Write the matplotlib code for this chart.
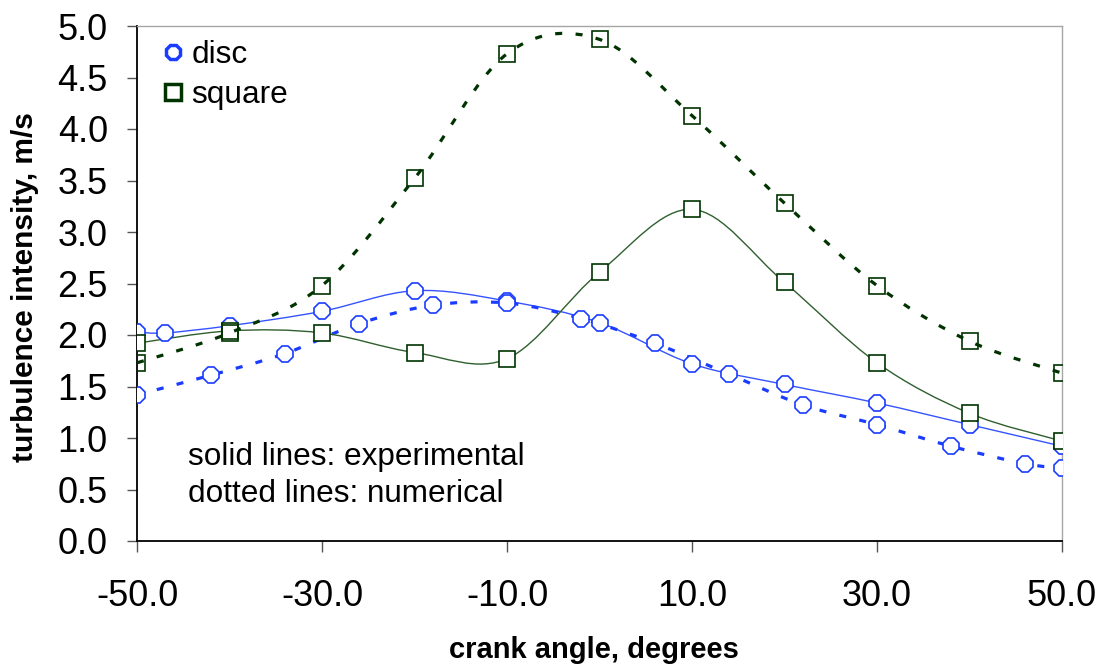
import numpy as np
import matplotlib
matplotlib.use('Agg')
import matplotlib.pyplot as plt
from matplotlib.path import Path
from matplotlib.patches import PathPatch
from matplotlib.lines import Line2D

plt.rcParams['font.family'] = ['Liberation Sans', 'DejaVu Sans']
plt.rcParams['axes.unicode_minus'] = False

# disc, experimental (solid) and numerical (dotted)
disc_exp_x = [-50, -47, -40, -30, -20, -10, 0, 10, 20, 30, 40, 50]
disc_exp_y = [2.03, 2.02, 2.09, 2.23, 2.43, 2.33, 2.12, 1.72, 1.52, 1.34, 1.13, 0.92]
disc_num_x = [-50, -42, -34, -26, -18, -10, -2, 6, 14, 22, 30, 38, 46, 50]
disc_num_y = [1.42, 1.61, 1.82, 2.11, 2.29, 2.31, 2.16, 1.92, 1.62, 1.32, 1.13, 0.92, 0.75, 0.71]

# square, experimental (solid) and numerical (dotted)
sq_exp_x = [-50, -40, -30, -20, -10, 0, 10, 20, 30, 40, 50]
sq_exp_y = [1.92, 2.04, 2.02, 1.83, 1.77, 2.61, 3.22, 2.51, 1.73, 1.24, 0.97]
sq_num_x = [-50, -40, -30, -20, -10, 0, 10, 20, 30, 40, 50]
sq_num_y = [1.73, 2.02, 2.48, 3.52, 4.73, 4.87, 4.13, 3.28, 2.48, 1.94, 1.63]

x_ticks = [-50, -30, -10, 10, 30, 50]
y_ticks = [0.0, 0.5, 1.0, 1.5, 2.0, 2.5, 3.0, 3.5, 4.0, 4.5, 5.0]

blue = '#1a3cff'
blue_line = '#3553ff'
green = '#003300'
green_line = '#2f5f2f'


def smooth_path(x, y):
    '''
    Bezier path through the points, spreadsheet-style smoothing
    '''
    pts = np.column_stack([x, y]).astype(float)
    n = len(pts)
    verts = [pts[0]]
    codes = [Path.MOVETO]
    for i in range(n - 1):
        p0 = pts[max(i - 1, 0)]
        p1 = pts[i]
        p2 = pts[i + 1]
        p3 = pts[min(i + 2, n - 1)]
        verts += [p1 + (p2 - p0) / 6, p2 - (p3 - p1) / 6, p2]
        codes += [Path.CURVE4] * 3
    return Path(verts, codes)


def add_curve(ax, x, y, color, lw, ls, z):
    patch = PathPatch(smooth_path(x, y), fill=False, edgecolor=color,
                      lw=lw, linestyle=ls, zorder=z, capstyle='butt')
    ax.add_patch(patch)


fig = plt.figure(figsize=(11.01, 6.68), dpi=100)
ax = fig.add_axes([137 / 1101, 1 - 541 / 668, 925 / 1101, 515 / 668])

dash = (0, (2.2, 4.2))
add_curve(ax, disc_exp_x, disc_exp_y, blue_line, 1.0, '-', 2)
add_curve(ax, disc_num_x, disc_num_y, blue, 2.3, dash, 2)
add_curve(ax, sq_exp_x, sq_exp_y, green_line, 1.0, '-', 2)
add_curve(ax, sq_num_x, sq_num_y, green, 2.3, dash, 4)

ax.plot(disc_exp_x, disc_exp_y, ls='none', marker='8', ms=13,
        mfc='white', mec=blue, mew=1.2, zorder=3)
ax.plot(disc_num_x, disc_num_y, ls='none', marker='8', ms=13,
        mfc='white', mec=blue, mew=1.2, zorder=3)
ax.plot(sq_exp_x, sq_exp_y, ls='none', marker='s', ms=11.5,
        mfc='white', mec=green, mew=1.2, zorder=3)
ax.plot(sq_num_x, sq_num_y, ls='none', marker='s', ms=11.5,
        mfc='none', mec=green, mew=1.2, zorder=5)

ax.set_xlim(-50, 50)
ax.set_ylim(0, 5)
ax.set_xticks(x_ticks)
ax.set_yticks(y_ticks)
ax.set_xticklabels(['%.1f' % v for v in x_ticks])
ax.set_yticklabels(['%.1f' % v for v in y_ticks])
ax.tick_params(axis='x', direction='out', length=8, width=1, pad=19,
               labelsize=26, color='#555555')
ax.tick_params(axis='y', direction='out', length=7, width=1, pad=14,
               labelsize=26, color='#555555')

for side in ['left', 'bottom']:
    ax.spines[side].set_color('black')
    ax.spines[side].set_linewidth(1.3)
for side in ['top', 'right']:
    ax.spines[side].set_color('#a6a6a6')
    ax.spines[side].set_linewidth(1.0)

ax.set_xlabel('crank angle, degrees', fontsize=21, fontweight='bold', va='center')
ax.xaxis.set_label_coords(0.494, (541 - 650) / 515)
ax.set_ylabel('turbulence intensity, m/s', fontsize=21.5, fontweight='bold',
              va='center')
ax.yaxis.set_label_coords((25 - 137) / 925, 0.493)

handles = [
    Line2D([], [], ls='none', marker='8', ms=11, mfc='none', mec=blue, mew=2.5),
    Line2D([], [], ls='none', marker='s', ms=11, mfc='none', mec=green, mew=2.5),
]
ax.legend(handles, ['disc', 'square'], loc='upper left',
          bbox_to_anchor=(-0.001, 1.022), frameon=False, fontsize=22.8,
          handlelength=0.75, handletextpad=0.2, labelspacing=0.32,
          borderpad=0.3)

ax.text(0.055, 0.128, 'solid lines: experimental\ndotted lines: numerical',
        transform=ax.transAxes, fontsize=22.7, va='center', ha='left',
        linespacing=1.3)

fig.savefig('out.png', dpi=100)
